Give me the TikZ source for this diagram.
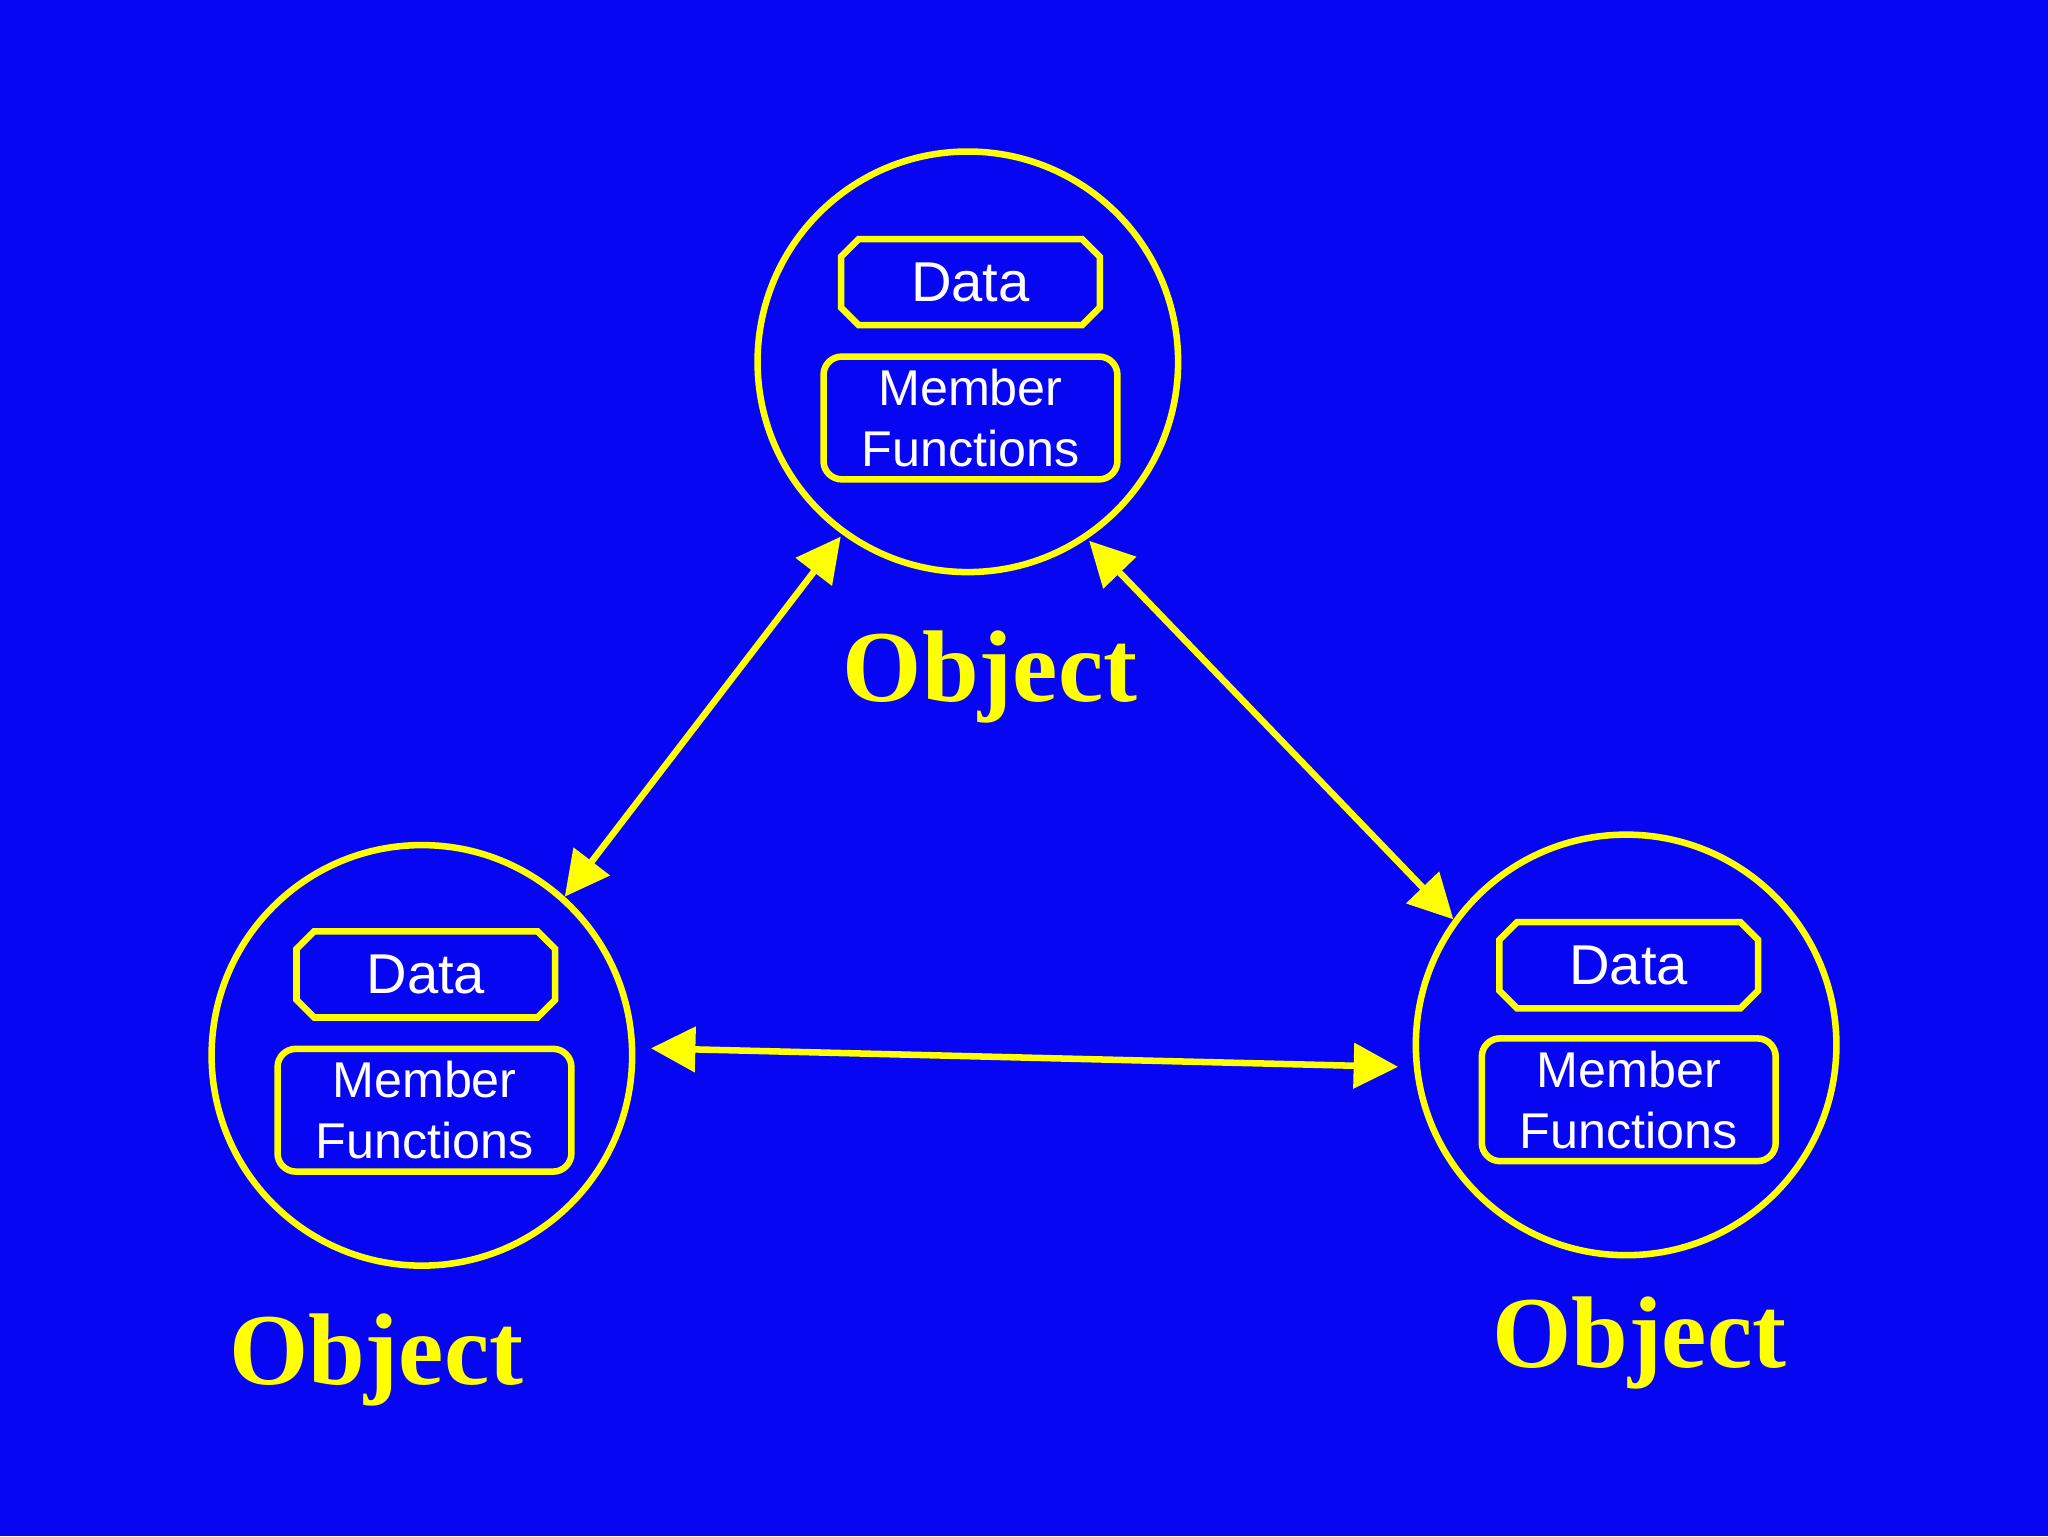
\documentclass[tikz,border=0pt]{standalone}
\usepackage{fontspec}
\setmainfont{Liberation Sans}
\newfontfamily\objfont{Liberation Serif}
\usetikzlibrary{shapes.misc,arrows.meta}
\definecolor{bg}{HTML}{0606F2}
\definecolor{yl}{HTML}{FFFF00}
\tikzset{
  obj/.style={circle,draw=yl,line width=5pt,minimum size=322pt,inner sep=0pt},
  databox/.style={chamfered rectangle,chamfered rectangle xsep=10pt,draw=yl,line width=5pt,minimum width=198pt,minimum height=66pt,inner sep=0pt,text=white,font=\fontsize{43}{48}\selectfont},
  mfbox/.style={rounded corners=14pt,draw=yl,line width=5pt,minimum width=225pt,minimum height=94pt,inner sep=0pt,text=white,align=center,font=\fontsize{38.5}{47}\selectfont},
  objlabel/.style={text=yl,font=\objfont\bfseries\fontsize{78}{80}\selectfont},
  link/.style={draw=yl,line width=5pt,{Triangle[length=34pt,width=34pt]}-{Triangle[length=34pt,width=34pt]}}
}
\begin{document}
\begin{tikzpicture}[x=1pt,y=-1pt]
\fill[bg] (0,0) rectangle (1568,1176);
\useasboundingbox (0,0) rectangle (1568,1176);
\node[obj] (ct) at (741,277) {};
\node[obj] (cl) at (323,808) {};
\node[obj] (cr) at (1245,800) {};
\node[databox] (dt) at (743,216) {Data};
\node[mfbox] (mt) at (743,320) {Member\\Functions};
\node[databox] (dl) at (326,746) {Data};
\node[mfbox] (ml) at (325,850) {Member\\Functions};
\node[databox] (dr) at (1247,739) {Data};
\node[mfbox] (mr) at (1247,842) {Member\\Functions};
\node[objlabel] (ot) at (758,518) {Object};
\node[objlabel] (ol) at (288,1041) {Object};
\node[objlabel] (or) at (1255,1028) {Object};
\draw[link,shorten <=2pt] (ct.234.8) -- (cl.48.9);
\draw[link,shorten <=2pt] (ct.304) -- (cr.144.5);
\draw[link,shorten <=12pt,shorten >=12pt] (cl.2) -- (cr.186);
\end{tikzpicture}
\end{document}
